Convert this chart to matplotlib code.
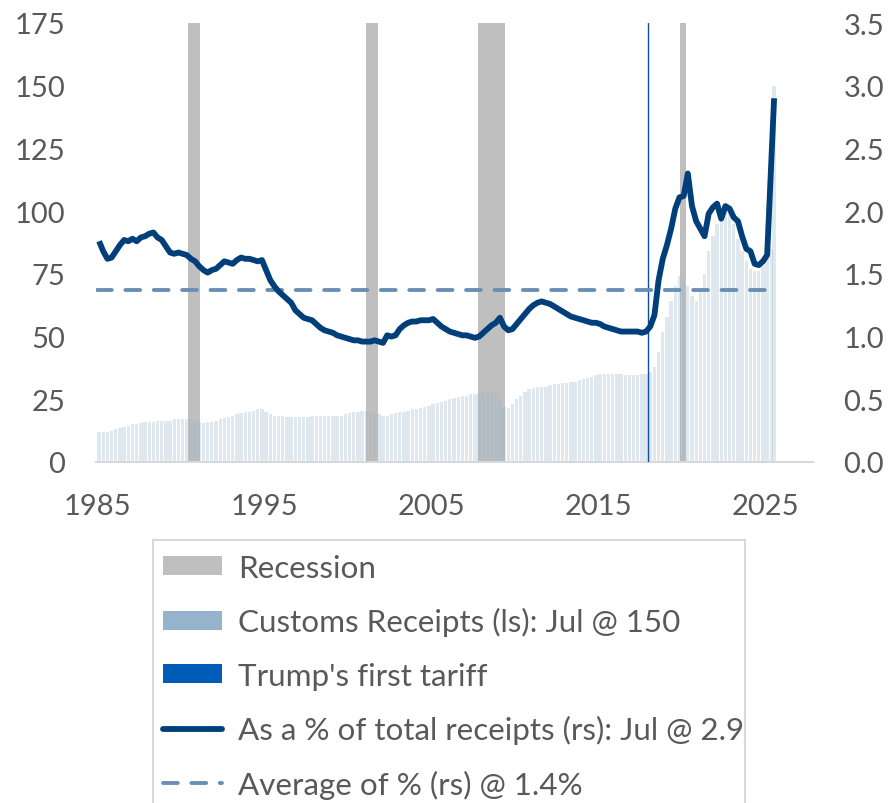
import matplotlib
matplotlib.use('Agg')
import matplotlib.pyplot as plt
import matplotlib.patches as mpatches
import matplotlib.lines as mlines
import numpy as np

plt.rcParams['font.family'] = ['Lato', 'DejaVu Sans']

# quarterly values 1985Q1..2025Q2, then Jul 2025
years = list(range(1985, 2026))

customs = [
    12, 12, 12, 12.5,        # 1985
    13, 13.5, 14, 14.5,      # 1986
    15, 15, 15.5, 16,        # 1987
    16, 16, 16.5, 16.5,      # 1988
    16.5, 16.5, 17, 17,      # 1989
    17, 17, 17, 16.5,        # 1990
    16, 15.5, 16, 16,        # 1991
    16.5, 17, 17.5, 18,      # 1992
    18.5, 19, 19.5, 20,      # 1993
    20, 20.5, 21, 21,        # 1994
    20, 19, 18.5, 18.5,      # 1995
    18.5, 18, 18, 18,        # 1996
    18, 18, 18, 18.5,        # 1997
    18.5, 18.5, 18.5, 18.5,  # 1998
    18.5, 18.5, 18.5, 19,    # 1999
    19.5, 20, 20, 20.5,      # 2000
    20.5, 20, 19.5, 19,      # 2001
    18.5, 18.5, 19, 19.5,    # 2002
    20, 20, 20.5, 21,        # 2003
    21, 21.5, 22, 22.5,      # 2004
    23, 23.5, 24, 24.5,      # 2005
    25, 25.5, 26, 26.5,      # 2006
    26.5, 27, 27, 27.5,      # 2007
    28, 28, 28, 27.5,        # 2008
    25, 22, 21.5, 23,        # 2009
    25, 26.5, 28, 29,        # 2010
    29.5, 30, 30, 30,        # 2011
    30.5, 31, 31, 31.5,      # 2012
    31.5, 32, 32, 32.5,      # 2013
    33, 33.5, 34, 34.5,      # 2014
    35, 35, 35, 35,          # 2015
    35, 35, 34.5, 34.5,      # 2016
    34.5, 34.5, 35, 35,      # 2017
    36, 38, 44, 52,          # 2018
    58, 64, 70, 74,          # 2019
    73, 70, 66, 64,          # 2020
    68, 75, 84, 90,          # 2021
    95, 98, 100, 99,         # 2022
    95, 89, 84, 80,          # 2023
    77, 76, 76, 78,          # 2024
    81, 85,                  # 2025 Q1-Q2
    150,                     # Jul 2025
]

pct_total = [
    1.76, 1.68, 1.62, 1.63,  # 1985
    1.68, 1.73, 1.77, 1.76,  # 1986
    1.78, 1.76, 1.79, 1.80,  # 1987
    1.82, 1.83, 1.79, 1.77,  # 1988
    1.72, 1.67, 1.66, 1.67,  # 1989
    1.66, 1.65, 1.62, 1.60,  # 1990
    1.56, 1.53, 1.51, 1.53,  # 1991
    1.54, 1.57, 1.60, 1.59,  # 1992
    1.58, 1.61, 1.63, 1.62,  # 1993
    1.62, 1.61, 1.60, 1.61,  # 1994
    1.53, 1.45, 1.40, 1.36,  # 1995
    1.33, 1.30, 1.27, 1.21,  # 1996
    1.18, 1.15, 1.14, 1.13,  # 1997
    1.10, 1.07, 1.05, 1.04,  # 1998
    1.03, 1.01, 1.00, 0.99,  # 1999
    0.98, 0.97, 0.97, 0.96,  # 2000
    0.96, 0.96, 0.97, 0.96,  # 2001
    0.95, 1.01, 1.00, 1.01,  # 2002
    1.06, 1.09, 1.11, 1.12,  # 2003
    1.12, 1.13, 1.13, 1.13,  # 2004
    1.14, 1.11, 1.08, 1.06,  # 2005
    1.04, 1.03, 1.02, 1.01,  # 2006
    1.01, 1.00, 0.99, 1.00,  # 2007
    1.03, 1.06, 1.09, 1.11,  # 2008
    1.15, 1.08, 1.05, 1.06,  # 2009
    1.10, 1.14, 1.18, 1.22,  # 2010
    1.25, 1.27, 1.28, 1.27,  # 2011
    1.26, 1.24, 1.22, 1.20,  # 2012
    1.18, 1.16, 1.15, 1.14,  # 2013
    1.13, 1.12, 1.11, 1.11,  # 2014
    1.10, 1.08, 1.07, 1.06,  # 2015
    1.05, 1.04, 1.04, 1.04,  # 2016
    1.04, 1.04, 1.03, 1.04,  # 2017
    1.08, 1.17, 1.45, 1.62,  # 2018
    1.73, 1.86, 2.02, 2.11,  # 2019
    2.12, 2.30, 2.04, 1.92,  # 2020
    1.86, 1.80, 1.98, 2.03,  # 2021
    2.06, 1.94, 2.04, 2.02,  # 2022
    1.95, 1.92, 1.80, 1.70,  # 2023
    1.68, 1.58, 1.57, 1.60,  # 2024
    1.65, 2.40,              # 2025 Q1-Q2
    2.90,                    # Jul 2025
]

avg_pct = 1.37
trump_tariff = 2018.0
recessions = [(1990.42, 1991.17), (2001.08, 2001.83), (2007.83, 2009.42), (2019.92, 2020.25)]

xticks = [1985, 1995, 2005, 2015, 2025]

# dates: quarter mid points + Jul 2025
dates = [y + q * 0.25 + 0.125 for y in years for q in range(4)][:len(customs) - 1]
dates.append(2025 + 6.5 / 12)

grey = '#595959'

fig = plt.figure(figsize=(8.9, 8.04), dpi=100)
ax = fig.add_axes([96 / 890, 1 - 463 / 804, (813 - 96) / 890, (463 - 24) / 804])
ax2 = ax.twinx()

for a, b in recessions:
    ax.axvspan(a, b, color='#bfbfbf', lw=0, zorder=1)

ax.bar(dates, customs, width=0.2, color='#95b3cc', alpha=0.3, lw=0, zorder=2)
ax.axvline(trump_tariff, color='#0b4ea2', lw=1, zorder=3)

ax2.plot(dates, pct_total, color='#003f7a', lw=4.2, solid_capstyle='butt', zorder=4)
ax2.plot([1985.0, dates[-1]], [avg_pct, avg_pct], color='#6a8fb5', lw=2.8,
         dashes=(3.8, 3.5), dash_capstyle='round', zorder=3)

ax.set_xlim(1984.94, 2027.87)
ax.set_ylim(0, 175)
ax2.set_ylim(0, 3.5)
ax.set_yticks(np.arange(0, 176, 25))
ax2.set_yticks(np.arange(0, 3.51, 0.5))
ax2.set_yticklabels([f'{v:.1f}' for v in np.arange(0, 3.51, 0.5)])
ax.set_xticks(xticks)

for a in (ax, ax2):
    for s in a.spines.values():
        s.set_visible(False)
    a.tick_params(length=0, labelsize=21, labelcolor=grey, pad=22)
ax.spines['bottom'].set_visible(True)
ax.spines['bottom'].set_color('#d9d9d9')
ax.spines['bottom'].set_linewidth(1.5)

handles = [
    mpatches.Patch(color='#bfbfbf', lw=0),
    mpatches.Patch(color='#95b3cc', lw=0),
    mpatches.Patch(color='#005cb9', lw=0),
    mlines.Line2D([], [], color='#003f7a', lw=4.2, solid_capstyle='round'),
    mlines.Line2D([], [], color='#6a8fb5', lw=2.8, dashes=(3.8, 3.5), dash_capstyle='round'),
]
labels = ['Recession', 'Customs Receipts (ls): Jul @ 150', "Trump's first tariff",
          'As a % of total receipts (rs): Jul @ 2.9', 'Average of % (rs) @ 1.4%']
leg = fig.legend(handles, labels, loc='upper left', bbox_to_anchor=(149 / 890, 1 - 541 / 804),
                 fontsize=22.6, frameon=False, handlelength=1.9, handleheight=0.57,
                 handletextpad=0.5, labelspacing=0.81, borderpad=0.44, borderaxespad=0)
for t in leg.get_texts():
    t.set_color(grey)

# legend frame (narrower than the longest label, running off the bottom)
fig.patches.append(mpatches.Rectangle((153 / 890, -0.05), (745 - 153) / 890, 1 - 541 / 804 + 0.05,
                                      transform=fig.transFigure, fill=False,
                                      edgecolor='#d9d9d9', lw=1.5))

fig.savefig('out.png', dpi=100)
